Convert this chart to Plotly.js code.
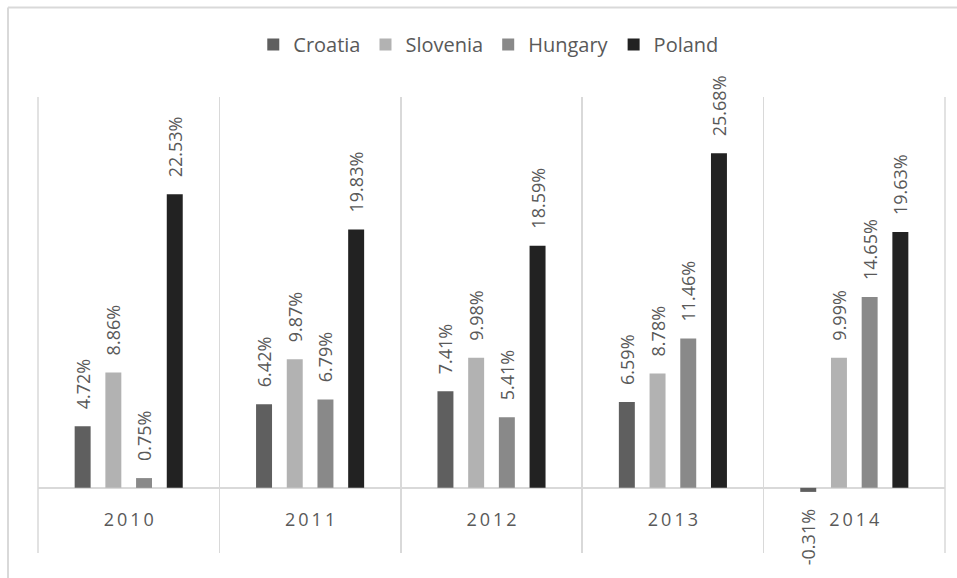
<!DOCTYPE html>
<html>
<head>
<meta charset="utf-8">
<script src="https://cdn.plot.ly/plotly-3.0.1.min.js"></script>
<style>html,body{margin:0;padding:0;background:#fff;}#chart{width:957px;height:578px;}</style>
</head>
<body>
<div id="chart"></div>
<script>
var years = ['2010', '2011', '2012', '2013', '2014'];
var countries = ['Croatia', 'Slovenia', 'Hungary', 'Poland'];
var croatia  = [4.72, 6.42, 7.41, 6.59, -0.31];
var slovenia = [8.86, 9.87, 9.98, 8.78, 9.99];
var hungary  = [0.75, 6.79, 5.41, 11.46, 14.65];
var poland   = [22.53, 19.83, 18.59, 25.68, 19.63];
var colors = ['#5f5f5f', '#b2b2b2', '#898989', '#222222'];

var series = [croatia, slovenia, hungary, poland];
var textColor = '#595959';
var fontFam = '"Open Sans", "Noto Sans", sans-serif';

var traces = series.map(function (vals, i) {
  return {
    type: 'bar',
    name: countries[i],
    x: years,
    y: vals,
    marker: {color: colors[i]},
    texttemplate: vals.map(function (v) {
      return v >= 0 ? '\u00a0\u00a0\u00a0%{y:.2f}%' : '%{y:.2f}%\u00a0\u00a0\u00a0';
    }),
    textposition: 'outside',
    textangle: -90,
    constraintext: 'none',
    cliponaxis: false,
    outsidetextfont: {family: fontFam, size: 18, color: textColor},
    hoverinfo: 'none'
  };
});

var W = 957, H = 578;
var mL = 38, mR = 12, mT = 96.5, mB = 25;
var pw = W - mL - mR, ph = H - mT - mB;
function px2x(px) { return (px - mL) / pw; }
function px2y(py) { return (H - mB - py) / ph; }

var layout = {
  width: W, height: H,
  margin: {l: mL, r: mR, t: mT, b: mB, pad: 0},
  paper_bgcolor: '#ffffff',
  plot_bgcolor: '#ffffff',
  barmode: 'group',
  bargap: 0.323,
  bargroupgap: 0.48,
  font: {family: fontFam, color: textColor},
  showlegend: true,
  legend: {
    orientation: 'h',
    x: 0.497, xanchor: 'center',
    y: px2y(44), yanchor: 'middle',
    font: {family: fontFam, size: 20, color: textColor},
    itemwidth: 30,
    tracegroupgap: 0,
    traceorder: 'normal'
  },
  xaxis: {
    type: 'category',
    categoryorder: 'array',
    categoryarray: years,
    tickmode: 'array',
    tickvals: years,
    ticktext: years.map(function (y) { return y.split('').join('\u2009'); }),
    tickson: 'boundaries',
    ticks: '',
    showgrid: true,
    gridcolor: '#d9d9d9',
    gridwidth: 1.5,
    showline: false,
    anchor: 'free',
    position: px2y(488),
    ticklabelstandoff: 19,
    tickfont: {family: fontFam, size: 18, color: textColor},
    fixedrange: true
  },
  yaxis: {
    range: [-5, 30],
    showgrid: false,
    showticklabels: false,
    ticks: '',
    zeroline: true,
    zerolinecolor: '#d9d9d9',
    zerolinewidth: 2,
    fixedrange: true
  },
  shapes: [
    {type: 'line', xref: 'paper', yref: 'paper', x0: px2x(8), x1: px2x(W + 5), y0: px2y(7), y1: px2y(7),
     line: {color: '#d9d9d9', width: 2}},
    {type: 'line', xref: 'paper', yref: 'paper', x0: px2x(8), x1: px2x(8), y0: px2y(7), y1: px2y(H + 5),
     line: {color: '#d9d9d9', width: 2}},
    {type: 'line', xref: 'paper', yref: 'paper', x0: 0, x1: 0, y0: 0, y1: 1,
     line: {color: '#d9d9d9', width: 1.5}, layer: 'below'},
    {type: 'line', xref: 'paper', yref: 'paper', x0: 1, x1: 1, y0: 0, y1: 1,
     line: {color: '#d9d9d9', width: 1.5}, layer: 'below'}
  ]
};

Plotly.newPlot('chart', traces, layout, {displayModeBar: false, staticPlot: true});
</script>
</body>
</html>
